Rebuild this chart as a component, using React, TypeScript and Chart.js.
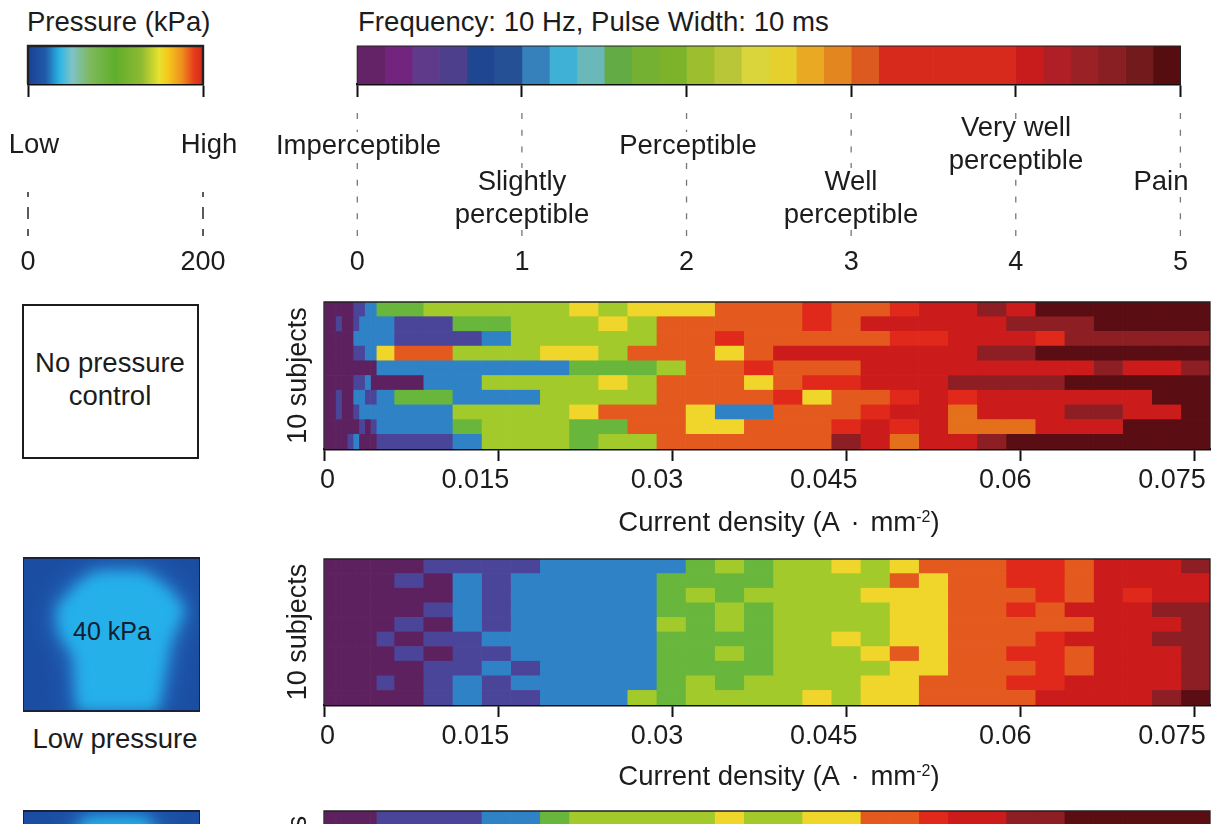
import React, { useEffect, useRef } from "react";
import { Chart, registerables } from "chart.js";

Chart.register(...registerables);

const FONT = '"Liberation Sans", Arial, sans-serif';
const INK = "#1c1c1c";

// ---------- data ----------
const subjects = ["S1", "S2", "S3", "S4", "S5", "S6", "S7", "S8", "S9", "S10"];
const densityTicks = [0, 0.015, 0.03, 0.045, 0.06, 0.075];
const densityMax = 0.07631;
const columnEdges = [
  0, 0.001, 0.0015, 0.002, 0.0025, 0.003, 0.0035, 0.004, 0.0045, 0.00603, 0.00854, 0.01105, 0.01356,
  0.01607, 0.01858, 0.02109, 0.0236, 0.02611, 0.02862, 0.03113, 0.03364, 0.03615, 0.03866, 0.04117,
  0.04368, 0.04619, 0.0487, 0.05121, 0.05372, 0.05623, 0.05874, 0.06125, 0.06376, 0.06627, 0.06878,
  0.07129, 0.0738, 0.07631,
];
// one letter per stimulus step, one string per subject
const noPressureRows = [
  "PPPPIIBBGGLLLLLYLYYYOOOROORDDMDKKKKKK",
  "PIPPIBBBBIIGGLLLYLOOOOORODDDDDMMMKKKK",
  "PPPPBBBBBIIIBLLLLLOOROOOOORRDDDRMMMMM",
  "PPPPIIBBYOOLLLYYLOOOYODDDDDDDMMKKKKKK",
  "PPPPPPPPBBBBBBBGGGLOOROOODDDDDDDDMDDM",
  "PPPPIIBPPPBBLLLLYLOOOYORRDDDMMMMKKKKK",
  "PIPPBBIIBGGBBBLLLLOOOORYOORDRDDDDDDKK",
  "PIPPIBBBBBBLLLLYOOOYBBOOORDDFDDDMMDDK",
  "PPPPPIPIBBBGLLLGGOOYYOOORDRDFFFDDDKKK",
  "PPPIBPPPIIIBLLLGLLOOOOOOMDFDDMKKKKKKK",
];
const lowPressureRows = [
  "PPPPPPPPPPIIIIBBBBBGLGLLYLYOOORRODDDM",
  "PPPPPPPPPIPBIBBBBBGGGGLLLLOYOORRODDDD",
  "PPPPPPPPPPPBIBBBBBGLGLLLLYYYOOORODRDD",
  "PPPPPPPPPPIBIBBBBBGGLGLLLLYYOORODDDMM",
  "PPPPPPPPPIPBIBBBBBLGLGLLLLYYOOOOODDDM",
  "PPPPPPPPIPIIBBBBBBGGGGLLYLYYOOORDDDMM",
  "PPPPPPPPPIPIIBBBBBGGLGLLLYOYOORRODDDM",
  "PPPPPPPPPPIIBIBBBBGGGGLLLLYYOOORODDDM",
  "PPPPPPPPIPIBIBBBBBGLGLLLLYYOOORRDDDDM",
  "PPPPPPPPPPIBIIBBBLGLLLLYLYYOOOODDDDMK",
];
const highPressureRows = ["PPPPPPPPIIIIBBGLLLLLYLLYYOORDDMMKKKKK"];

const levelColors: Record<string, string> = {
  P: "#5e2160", I: "#4b459a", B: "#2f82c6", G: "#68b63c", L: "#a2ca2b", Y: "#f0d52a",
  O: "#e45a1e", F: "#e5701c", R: "#e0281b", D: "#cb1b1b", M: "#8c1e24", K: "#5a0d12",
};

const perceptionTicks = [0, 1, 2, 3, 4, 5];
const perceptionColors = [
  "#652367", "#73247f", "#5f3a8a", "#4d3f8c", "#1f4791", "#265096", "#3681bb", "#3fb0d6", "#6bb8bb",
  "#63ac45", "#74b032", "#7cb32a", "#9dbf2f", "#b8c637", "#d9d53a", "#e6d02e", "#e9a922", "#e4861f",
  "#dc5a20", "#d82a1c", "#d82a1c", "#d82a1c", "#d82a1c", "#d82a1c", "#c81c1c", "#af1f25", "#9a2126",
  "#891f23", "#731a1c", "#560d10",
];
const pressureTicks = [0, 200];
const pressureStops: [number, string][] = [
  [0, "#1b3f96"], [0.1, "#1f5ba8"], [0.18, "#2bb5e6"], [0.25, "#7ec3c8"], [0.36, "#7db858"],
  [0.5, "#5fae2c"], [0.65, "#8fbb32"], [0.75, "#e8e22e"], [0.8, "#f6c81c"], [0.88, "#ee8f1e"],
  [0.95, "#e53c1a"], [1, "#d4281a"],
];

// ---------- chart helpers ----------
const framePlugin = {
  id: "frame",
  afterDatasetsDraw(chart: any, _a: any, opts: any) {
    const { left, right, top, bottom } = chart.chartArea;
    const c = chart.ctx;
    c.save();
    c.strokeStyle = opts.color || "#222";
    c.lineWidth = opts.width || 1.3;
    c.beginPath();
    c.moveTo(left, bottom);
    c.lineTo(left, top);
    c.lineTo(right, top);
    c.lineTo(right, bottom);
    c.stroke();
    c.restore();
  },
};

const dashPlugin = {
  id: "dashes",
  afterDraw(chart: any, _a: any, opts: any) {
    if (!opts.pattern) return;
    const c = chart.ctx;
    const x = chart.scales.x;
    c.save();
    c.strokeStyle = opts.color;
    c.lineWidth = opts.width;
    c.setLineDash(opts.pattern);
    c.lineDashOffset = opts.offset || 0;
    opts.values.forEach((v: number) => {
      const px = x.getPixelForValue(v);
      c.beginPath();
      c.moveTo(px, opts.from);
      c.lineTo(px, opts.to);
      c.stroke();
    });
    c.restore();
  },
};

function xAxis(min: number, max: number, ticks: number[], axisHeight: number, tickLen: number, pad: number, extra: any = {}) {
  return {
    type: "linear",
    min,
    max,
    stacked: false,
    afterBuildTicks(s: any) {
      s.ticks = ticks.map((value) => ({ value }));
    },
    afterFit(s: any) {
      s.height = axisHeight;
      s.paddingLeft = 0;
      s.paddingRight = 0;
    },
    grid: { display: true, drawOnChartArea: false, drawTicks: true, tickLength: tickLen, tickColor: "#111", tickWidth: 2 },
    border: { display: true, color: "#111", width: 2.4 },
    ticks: {
      autoSkip: false,
      maxRotation: 0,
      minRotation: 0,
      padding: pad,
      color: INK,
      font: { family: FONT, size: 27 },
      callback: (v: number) => String(v),
      ...extra,
    },
  };
}

function heatmapConfig(rows: string[]) {
  const columns = columnEdges.slice(0, -1);
  return {
    type: "bar",
    data: {
      labels: subjects,
      datasets: columns.map((start, j) => ({
        grouped: false,
        barPercentage: 1,
        categoryPercentage: 1,
        borderWidth: 0,
        data: rows.map(() => [start, columnEdges[j + 1]]),
        backgroundColor: rows.map((r) => levelColors[r[j]]),
      })),
    },
    options: {
      indexAxis: "y",
      animation: false,
      responsive: false,
      layout: { padding: { top: 4, right: 7, left: 0, bottom: 0 } },
      events: [],
      plugins: { legend: { display: false }, tooltip: { enabled: false }, frame: {} },
      scales: {
        x: xAxis(0, densityMax, densityTicks, 60, 12, 3, { align: "end", labelOffset: 11 }),
        y: {
          type: "category",
          afterFit(s: any) {
            s.width = 44;
          },
          grid: { display: false },
          border: { display: false },
          ticks: { display: false },
          title: {
            display: true,
            text: "10 subjects",
            color: INK,
            font: { family: FONT, size: 27 },
            padding: { top: 2, bottom: 0 },
          },
        },
      },
    },
    plugins: [framePlugin],
  };
}

function colorbarBase(datasets: any[], x: any, padding: any, dashes: any) {
  return {
    type: "bar",
    data: { labels: ["scale"], datasets },
    options: {
      indexAxis: "y",
      animation: false,
      responsive: false,
      layout: { padding },
      events: [],
      plugins: { legend: { display: false }, tooltip: { enabled: false }, dashes, frame: { color: "#222", width: dashes.frame } },
      scales: {
        x,
        y: { display: false, type: "category", grid: { display: false } },
      },
    },
    plugins: [framePlugin, dashPlugin],
  };
}

function perceptionConfig() {
  const datasets = perceptionColors.map((color, i) => ({
    grouped: false,
    barPercentage: 1,
    categoryPercentage: 1,
    borderWidth: 0,
    data: [[i / 6, (i + 1) / 6]],
    backgroundColor: color,
  }));
  return colorbarBase(
    datasets,
    xAxis(0, 5, perceptionTicks, 201, 13, 149),
    { top: 6, left: 57.3, right: 36.6, bottom: 0 },
    { values: perceptionTicks, from: 73, to: 196, pattern: [6, 10.7], color: "#777", width: 1.3, frame: 1.2 }
  );
}

function pressureConfig() {
  const datasets = [
    {
      barPercentage: 1,
      categoryPercentage: 1,
      borderWidth: 0,
      data: [[pressureTicks[0], pressureTicks[1]]],
      backgroundColor(ctx: any) {
        const area = ctx.chart.chartArea;
        if (!area) return pressureStops[0][1];
        const g = ctx.chart.ctx.createLinearGradient(area.left, 0, area.right, 0);
        pressureStops.forEach(([p, c]) => g.addColorStop(p, c));
        return g;
      },
    },
  ];
  return colorbarBase(
    datasets,
    xAxis(0, 200, pressureTicks, 201, 13, 149),
    { top: 6, left: 28, right: 37, bottom: 0 },
    { values: pressureTicks, from: 152, to: 196, pattern: [12, 10], offset: 7, color: "#333", width: 1.6, frame: 2.4 }
  );
}

// ---------- page pieces ----------
const textBase: React.CSSProperties = {
  position: "absolute",
  fontFamily: FONT,
  fontSize: 27.5,
  color: INK,
  lineHeight: "33px",
  whiteSpace: "pre",
  textAlign: "center",
  transform: "translateX(-50%)",
};

function Label({ cx, top, text, size, bg, skip, color }: { cx: number; top: number; text: string; size?: number; bg?: boolean; skip?: number; color?: string }) {
  const s = skip || 0;
  return (
    <div
      style={{
        ...textBase,
        left: cx,
        top,
        fontSize: size || 27.5,
        color: color || INK,
        background: bg ? `linear-gradient(transparent ${s}px, #fff ${s}px)` : "transparent",
      }}
    >
      {text}
    </div>
  );
}

function DensityTitle({ y }: { y: number }) {
  return (
    <div style={{ ...textBase, left: 779, top: y - 16, fontSize: 27.5 }}>
      Current density (A<span style={{ margin: "0 3px" }}> {"\u00b7"} </span>mm
      <span style={{ fontSize: 16, verticalAlign: "9px", lineHeight: 0 }}>-2</span>)
    </div>
  );
}

function PressureMap({ top, poly, children }: { top: number; poly: string; children?: React.ReactNode }) {
  return (
    <div
      style={{
        position: "absolute",
        left: 23,
        top,
        width: 177,
        height: 155,
        boxSizing: "border-box",
        background: "#1b4ea3",
        borderTop: "2px solid #1a2238",
        borderBottom: "2px solid #1a2238",
        borderLeft: "1px solid #1a2238",
        borderRight: "1px solid #1a2238",
        overflow: "hidden",
      }}
    >
      <div style={{ position: "absolute", inset: 0, filter: "blur(13px)", transform: "scale(1.05)" }}>
        <div style={{ position: "absolute", inset: 0, background: "#2b86d2", clipPath: `polygon(${poly})` }} />
      </div>
      <div style={{ position: "absolute", inset: 0, filter: "blur(7px)" }}>
        <div style={{ position: "absolute", inset: 0, background: "#25b0ea", clipPath: `polygon(${poly})` }} />
      </div>
      {children}
    </div>
  );
}

const blobLow = "41.5% 9%,68% 9%,81% 19%,91.5% 33%,83% 55%,79% 81%,74.5% 110%,31% 110%,29% 64%,20.5% 49%,19% 33%,31% 17%";
const blobHigh = "35% 4%,70% 4%,82% 30%,88% 60%,22% 60%,24% 30%";

const panels = [
  { key: "none", rows: noPressureRows, top: 302, height: 147 },
  { key: "low", rows: lowPressureRows, top: 559, height: 146 },
  { key: "high", rows: highPressureRows, top: 811, height: 146 },
];

export default function App() {
  const perceptionRef = useRef<HTMLCanvasElement>(null);
  const pressureRef = useRef<HTMLCanvasElement>(null);
  const panelRefs = useRef<(HTMLCanvasElement | null)[]>([]);

  useEffect(() => {
    const charts: Chart[] = [];
    charts.push(new Chart(pressureRef.current as any, pressureConfig() as any));
    charts.push(new Chart(perceptionRef.current as any, perceptionConfig() as any));
    panels.forEach((p, i) => {
      charts.push(new Chart(panelRefs.current[i] as any, heatmapConfig(p.rows) as any));
    });
    return () => charts.forEach((c) => c.destroy());
  }, []);

  return (
    <div style={{ position: "fixed", left: 0, top: 0, width: 1217, height: 824, overflow: "hidden", background: "#fff" }}>
      <canvas ref={pressureRef} width={240} height={245} style={{ position: "absolute", left: 0, top: 40 }} />
      <canvas ref={perceptionRef} width={917} height={245} style={{ position: "absolute", left: 300, top: 40 }} />
      {panels.map((p, i) => (
        <canvas
          key={p.key}
          ref={(el) => {
            panelRefs.current[i] = el;
          }}
          width={937}
          height={p.height + 64}
          style={{ position: "absolute", left: 280, top: p.top - 4 }}
        />
      ))}

      <div style={{ ...textBase, left: 27, top: 5, transform: "none" }}>Pressure (kPa)</div>
      <div style={{ ...textBase, left: 358, top: 5, transform: "none", fontSize: 27.6 }}>Frequency: 10 Hz, Pulse Width: 10 ms</div>

      <Label cx={34} top={127} text="Low" />
      <Label cx={209} top={127} text="High" />
      <Label cx={358.5} top={128} text="Imperceptible" bg skip={4} />
      <Label cx={522} top={164} text={"Slightly\nperceptible"} bg skip={4} />
      <Label cx={688} top={128} text="Perceptible" bg skip={4} />
      <Label cx={851} top={164} text={"Well\nperceptible"} bg skip={4} />
      <Label cx={1016} top={110} text={"Very well\nperceptible"} bg skip={9} />
      <Label cx={1161} top={164} text="Pain" bg skip={4} />

      <div style={{ position: "absolute", left: 22, top: 304, width: 177, height: 155, boxSizing: "border-box", border: "2px solid #1c1c1c" }} />
      <Label cx={110} top={346} text={"No pressure\ncontrol"} />

      <PressureMap top={557} poly={blobLow} />
      <Label cx={112} top={615} text="40 kPa" size={25} color="#10202e" />
      <Label cx={115} top={722} text="Low pressure" size={27.5} />
      <PressureMap top={810} poly={blobHigh} />

      <DensityTitle y={521} />
      <DensityTitle y={775} />
    </div>
  );
}
